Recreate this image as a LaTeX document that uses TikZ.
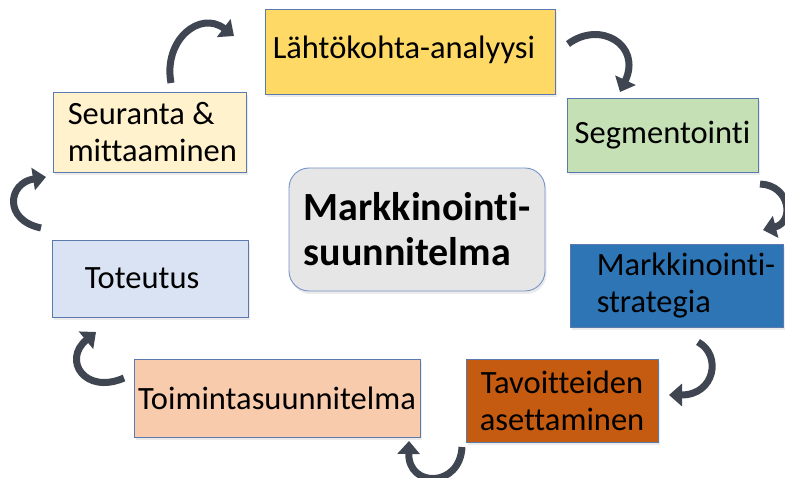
\documentclass[tikz,border=0pt]{standalone}
\usepackage{fontspec}
\setmainfont{Carlito}[Ligatures=NoCommon]
\usetikzlibrary{arrows.meta,shadows}
\definecolor{cgold}{HTML}{FFD966}
\definecolor{cgreen}{HTML}{C5E0B4}
\definecolor{cblue}{HTML}{2E75B6}
\definecolor{corange}{HTML}{C55A11}
\definecolor{cpeach}{HTML}{F8CBAD}
\definecolor{clblue}{HTML}{DAE3F3}
\definecolor{ccream}{HTML}{FFF2CC}
\definecolor{cgray}{HTML}{E7E6E6}
\definecolor{bordc}{HTML}{5A7AAE}
\definecolor{cbord}{HTML}{7393C9}
\definecolor{arrc}{HTML}{3F4652}
\begin{document}
\begin{tikzpicture}[x=1pt,y=-1pt,
  box/.style={draw=bordc, line width=0.9pt, inner sep=0pt,
    font=\fontsize{32.5}{37}\selectfont, align=center,
    drop shadow={shadow xshift=1.5pt, shadow yshift=-3pt, opacity=0.16}},
  txt/.style={inner sep=0pt, font=\fontsize{32.5}{37}\selectfont, align=left, anchor=west},
  carrow/.style={draw=arrc, line width=7pt, -{Triangle[length=13pt,width=22pt]}}]
\useasboundingbox (0,0) rectangle (785,478);
% boxes
\node[box, fill=cgold, minimum width=290pt, minimum height=85pt] (lahto) at (410,51.5) {};
\node[box, fill=cgreen, minimum width=191pt, minimum height=74pt] (seg) at (662.5,135) {Segmentointi};
\node[box, fill=cblue, minimum width=213pt, minimum height=83pt] (strat) at (676.5,285.5) {};
\node[box, fill=corange, minimum width=192pt, minimum height=83pt] (tav) at (562,400.5) {Tavoitteiden\\asettaminen};
\node[box, fill=cpeach, minimum width=286pt, minimum height=78pt] (toim) at (277,398) {Toimintasuunnitelma};
\node[box, fill=clblue, minimum width=196pt, minimum height=77pt] (tot) at (150,278.5) {};
\node[box, fill=ccream, minimum width=193pt, minimum height=80pt] (seur) at (149.5,132) {};
\node[box, draw=cbord, fill=cgray, rounded corners=20pt, minimum width=256pt, minimum height=123pt] (cent) at (417,229.5) {};
% left-aligned texts
\node[txt] (lahtot) at ([xshift=8pt,yshift=2pt]lahto.west) {Lähtökohta-analyysi};
\node[txt] (stratt) at ([xshift=27pt]strat.west) {Markkinointi-\\strategia};
\node[txt] (tott) at ([xshift=33pt]tot.west) {Toteutus};
\node[txt] (seurt) at ([xshift=15pt]seur.west) {Seuranta \&\\mittaaminen};
\node[txt, font=\fontsize{40}{45}\selectfont\bfseries] (centt) at ([xshift=15pt]cent.west) {Markkinointi-\\suunnitelma};
% curved arrows
\coordinate (a1s) at (171,83);  \coordinate (a1e) at (234,36);
\coordinate (a2s) at (568,44);  \coordinate (a2e) at (620,92);
\coordinate (a3s) at (760,184); \coordinate (a3e) at (763,230);
\coordinate (a4s) at (698,342); \coordinate (a4e) at (669,395);
\coordinate (a5s) at (462,447); \coordinate (a5e) at (409,441);
\coordinate (a6s) at (124,378); \coordinate (a6e) at (96,332);
\coordinate (a7s) at (41,228);  \coordinate (a7e) at (46,177);
\draw[carrow] (a1s) .. controls (163,40) and (200,10) .. (a1e);
\draw[carrow] (a2s) .. controls (600,20) and (642,45) .. (a2e);
\draw[carrow] (a3s) .. controls (790,185) and (795,222) .. (a3e);
\draw[carrow] (a4s) .. controls (722,355) and (715,395) .. (a4e);
\draw[carrow] (a5s) .. controls (460,488) and (408,488) .. (a5e);
\draw[carrow] (a6s) .. controls (85,395) and (62,360) .. (a6e);
\draw[carrow] (a7s) .. controls (3,220) and (8,183) .. (a7e);
\end{tikzpicture}
\end{document}
